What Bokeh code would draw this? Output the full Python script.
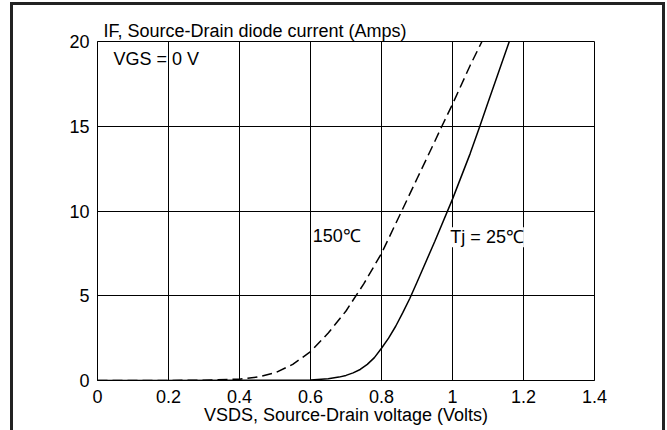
from bokeh.plotting import figure
from bokeh.models import Label, FixedTicker, Range1d, InlineStyleSheet
from bokeh.embed import file_html
from bokeh.resources import INLINE

# Tj = 25 C curve (solid)
v25 = [0.0, 0.2, 0.4, 0.5, 0.6, 0.65, 0.68, 0.7, 0.72, 0.74, 0.76, 0.78, 0.8, 0.82, 0.84, 0.86, 0.88, 0.9, 0.95, 1.0, 1.05, 1.077, 1.1, 1.13, 1.16]
i25 = [0.0, 0.0, 0.01, 0.02, 0.03, 0.1, 0.2, 0.3, 0.45, 0.65, 0.95, 1.35, 1.9, 2.5, 3.2, 4.0, 4.85, 5.8, 8.2, 10.7, 13.4, 15.0, 16.4, 18.2, 20.0]

# 150 C curve (dashed)
v150 = [0.0, 0.2, 0.3, 0.4, 0.45, 0.5, 0.55, 0.6, 0.65, 0.7, 0.75, 0.8, 0.857, 0.9, 0.95, 0.97, 1.0, 1.05, 1.083]
i150 = [0.0, 0.0, 0.02, 0.08, 0.2, 0.45, 0.95, 1.7, 2.8, 4.1, 5.7, 7.5, 10.0, 11.9, 14.1, 15.0, 16.3, 18.6, 20.0]

x_ticks = [0, 0.2, 0.4, 0.6, 0.8, 1.0, 1.2, 1.4]
y_ticks = [0, 5, 10, 15, 20]

FONT = "Liberation Sans"
FS = "18px"

p = figure(width=667, height=430, output_backend="svg", toolbar_location=None,
           x_range=Range1d(0, 1.4), y_range=Range1d(0, 20),
           min_border_left=97, min_border_right=73, min_border_top=41, min_border_bottom=50)

p.background_fill_color = "white"
p.border_fill_color = "white"
p.outline_line_color = "black"
p.outline_line_width = 1

p.title.text = "IF, Source-Drain diode current (Amps)"
p.title.align = "left"
p.title.offset = 6
p.title.standoff = 1
p.title.text_font = FONT
p.title.text_font_size = FS
p.title.text_font_style = "normal"
p.title.text_color = "black"

p.xaxis.ticker = FixedTicker(ticks=x_ticks)
p.yaxis.ticker = FixedTicker(ticks=y_ticks)
p.xaxis.major_label_overrides = {0: "0", 1.0: "1"}
for ax in (p.xaxis[0], p.yaxis[0]):
    ax.major_tick_out = 0
    ax.major_tick_in = 0
    ax.minor_tick_out = 0
    ax.minor_tick_in = 0
    ax.axis_line_color = "black"
    ax.major_label_text_font = FONT
    ax.major_label_text_font_size = FS
    ax.major_label_text_color = "black"
p.yaxis.major_label_standoff = 8
p.xaxis.major_label_standoff = 9
p.xaxis.axis_label = "VSDS, Source-Drain voltage (Volts)"
p.xaxis.axis_label_text_font = FONT
p.xaxis.axis_label_text_font_size = FS
p.xaxis.axis_label_text_font_style = "normal"
p.xaxis.axis_label_text_color = "black"
p.xaxis.axis_label_standoff = -1

p.xgrid.ticker = FixedTicker(ticks=x_ticks)
p.ygrid.ticker = FixedTicker(ticks=y_ticks)
p.grid.grid_line_color = "black"
p.grid.grid_line_alpha = 1.0
p.grid.grid_line_width = 1

p.line(v25, i25, line_color="black", line_width=1.5)
p.line(v150, i150, line_color="black", line_width=1.5, line_dash="10 5")

def lab(x, y, text, bg=None):
    l = Label(x=x, y=y, text=text, text_font=FONT, text_font_size=FS,
              text_color="black", text_align="left", text_baseline="middle")
    if bg:
        l.background_fill_color = bg
    p.add_layout(l)

lab(0.045, 18.95, "VGS = 0 V")
lab(0.606, 8.5, "150\u2103", bg="white")
lab(0.994, 8.45, "Tj = 25\u2103", bg="white")

# outer frame of the figure (drawn as a page decoration)
p.stylesheets = [InlineStyleSheet(css=(
    ":host{position:relative;}"
    ":host::after{content:'';position:absolute;left:10px;top:2px;width:655px;height:428px;"
    "border:3px solid #222;border-bottom:none;box-sizing:border-box;pointer-events:none;z-index:10;}"
))]

open("out.html", "w").write(file_html(p, INLINE))
